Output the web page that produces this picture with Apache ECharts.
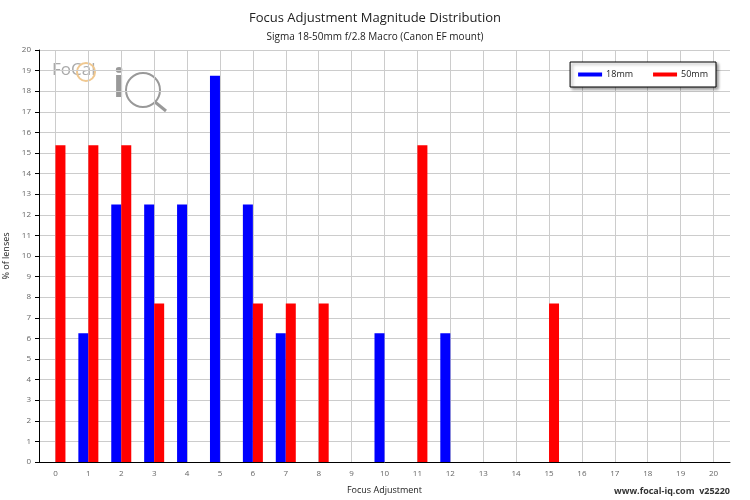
<!DOCTYPE html>
<html><head><meta charset="utf-8">
<script src="https://cdn.jsdelivr.net/npm/echarts@6/dist/echarts.min.js"></script>
<style>html,body{margin:0;padding:0;background:#fff}#c{width:750px;height:500px}</style>
</head><body><div id="c"></div>
<script>
const categories = ['0','1','2','3','4','5','6','7','8','9','10','11','12','13','14','15','16','17','18','19','20'];
const s18 = [0,6.25,12.5,12.5,12.5,18.75,12.5,6.25,0,0,6.25,0,6.25,0,0,0,0,0,0,0,0];
const s50 = [15.38,15.38,15.38,7.69,0,0,7.69,7.69,7.69,0,0,15.38,0,0,0,7.69,0,0,0,0,0];
const yTicks = {min:0,max:20,interval:1};
const F='"Open Sans", sans-serif';
const chart = echarts.init(document.getElementById('c'));
const L=39,R=20,W=750-L-R,half=W/21/2;
chart.setOption({
  animation:false,
  title:[{text:'Focus Adjustment Magnitude Distribution',left:'center',top:7,textStyle:{fontFamily:F,fontSize:13,fontWeight:'normal',color:'#222'}},
         {text:'Sigma 18-50mm f/2.8 Macro (Canon EF mount)',left:'center',top:27,textStyle:{fontFamily:F,fontSize:10,fontWeight:'normal',color:'#222'}}],
  legend:{right:34,top:62,itemWidth:24,itemHeight:4,itemGap:20,padding:[8,8],borderColor:'#000',borderWidth:1,backgroundColor:'#fff',shadowColor:'rgba(0,0,0,0.4)',shadowBlur:3,shadowOffsetX:2,shadowOffsetY:2,icon:'rect',textStyle:{fontFamily:F,fontSize:9,color:'#222',padding:[0,0,0,-1]},data:['18mm','50mm']},
  graphic:[
    {type:'text',left:52,top:62,style:{text:'FoCal',font:'17px '+F,fill:'#aaa'}},
    {type:'circle',shape:{cx:86,cy:72,r:9},style:{fill:'none',stroke:'#f0c890',lineWidth:2}},
    {type:'text',left:113,top:66,style:{text:'i',font:'bold 40px '+F,fill:'#999'}},
    {type:'circle',shape:{cx:143,cy:90,r:17},style:{fill:'none',stroke:'#999',lineWidth:2}},
    {type:'line',shape:{x1:155,y1:102,x2:166,y2:111},style:{stroke:'#999',lineWidth:3}},
    {type:'text',right:20,bottom:4,style:{text:'www.focal-iq.com  v25220',font:'bold 9px '+F,fill:'#333'}}
  ],
  grid:[{left:L,right:R,top:50,bottom:38,outerBoundsMode:'none'},{left:L+half,right:R+half,top:50,bottom:38,outerBoundsMode:'none'}],
  xAxis:[
    {type:'category',gridIndex:0,data:categories,name:'Focus Adjustment',nameLocation:'middle',nameGap:24,nameTextStyle:{fontFamily:F,fontSize:9,color:'#222'},
     axisLine:{lineStyle:{color:'#000'}},axisTick:{show:false},axisLabel:{fontFamily:F,fontSize:8,color:'#666',margin:8},splitLine:{show:false}},
    {type:'value',gridIndex:1,min:0,max:20,interval:1,axisLine:{show:false},axisTick:{show:false},axisLabel:{show:false},splitLine:{show:true,lineStyle:{color:'#ccc'}}}
  ],
  yAxis:[
    {type:'value',gridIndex:0,...yTicks,name:'% of lenses',nameLocation:'middle',nameGap:16,nameTextStyle:{fontFamily:F,fontSize:9,color:'#222'},
     axisLine:{show:true,lineStyle:{color:'#000'}},axisTick:{show:true,length:4,lineStyle:{color:'#000'}},axisLabel:{fontFamily:F,fontSize:8,color:'#666'},splitLine:{lineStyle:{color:'#ccc'}}},
    {type:'value',gridIndex:1,...yTicks,show:false,splitLine:{show:false}}
  ],
  series:[
    {name:'18mm',type:'bar',xAxisIndex:0,yAxisIndex:0,data:s18,barWidth:10,barGap:'0%',itemStyle:{color:'#0000ff'},z:3},
    {name:'50mm',type:'bar',xAxisIndex:0,yAxisIndex:0,data:s50,barWidth:10,barGap:'0%',itemStyle:{color:'#ff0000'},z:3}
  ]
});
</script></body></html>
